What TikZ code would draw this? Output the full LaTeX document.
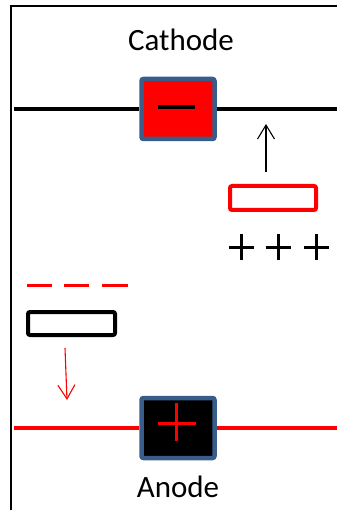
\documentclass[tikz,border=0pt]{standalone}
\usepackage{fontspec}
\setmainfont{Carlito}
\usetikzlibrary{arrows.meta}
\definecolor{outl}{RGB}{56,93,138}
\begin{document}
\begin{tikzpicture}[x=1pt,y=-1pt,
  electrode/.style={draw=outl,line width=4.5pt,rounded corners=2pt,minimum width=73pt,minimum height=60pt,inner sep=0pt},
  wire/.style={line width=4pt},
  plate/.style={draw,line width=4pt,rounded corners=2pt,inner sep=0pt},
  sign/.style={line width=3pt},
  lbl/.style={font=\fontsize{31}{37}\selectfont,inner sep=0pt},
  thinarrow/.style={line width=1.1pt,-{Straight Barb[length=14pt,width=17pt,line width=1.1pt]}}]
\useasboundingbox (0,0) rectangle (337,510);
% frame
\draw[line width=2pt] (11,510) -- (11,6) -- (337,6);
% labels
\node[lbl] (cathode) at (181,40) {Cathode};
\node[lbl] (anode) at (178,487) {Anode};
% electrodes
\node[electrode,fill=red] (cbox) at (178,109) {};
\node[electrode,fill=black] (abox) at (178,428) {};
% wires
\coordinate (cl) at (14,109);
\coordinate (cr) at (337,109);
\coordinate (al) at (14,428);
\coordinate (ar) at (337,428);
\draw[wire] (cl) -- (cbox.west);
\draw[wire] (cbox.east) -- (cr);
\draw[wire,red] (al) -- (abox.west);
\draw[wire,red] (abox.east) -- (ar);
% signs in electrodes
\draw[line width=3.5pt] (158,107) -- (195,107);
\draw[sign,red] (158,423) -- (196,423);
\draw[sign,red] (176,403) -- (176,441);
% plates
\node[plate,draw=red,minimum width=86pt,minimum height=24pt] (rplate) at (273,198) {};
\node[plate,draw=black,minimum width=87pt,minimum height=23pt] (bplate) at (71.5,323.5) {};
% arrows
\coordinate (up1) at (266,172);
\coordinate (up2) at (266,124);
\draw[thinarrow] (up1) -- (up2);
\coordinate (dn1) at (65,348);
\coordinate (dn2) at (67,400);
\draw[thinarrow,red] (dn1) -- (dn2);
% plus signs
\foreach \cx in {241,278,316}{
  \draw[sign] (\cx-12.5,247) -- (\cx+12.5,247);
  \draw[sign] (\cx,234) -- (\cx,260);
}
% minus dashes
\draw[sign,red] (27,285) -- (52,285);
\draw[sign,red] (64,285) -- (89,285);
\draw[sign,red] (102,285) -- (128,285);
\end{tikzpicture}
\end{document}
